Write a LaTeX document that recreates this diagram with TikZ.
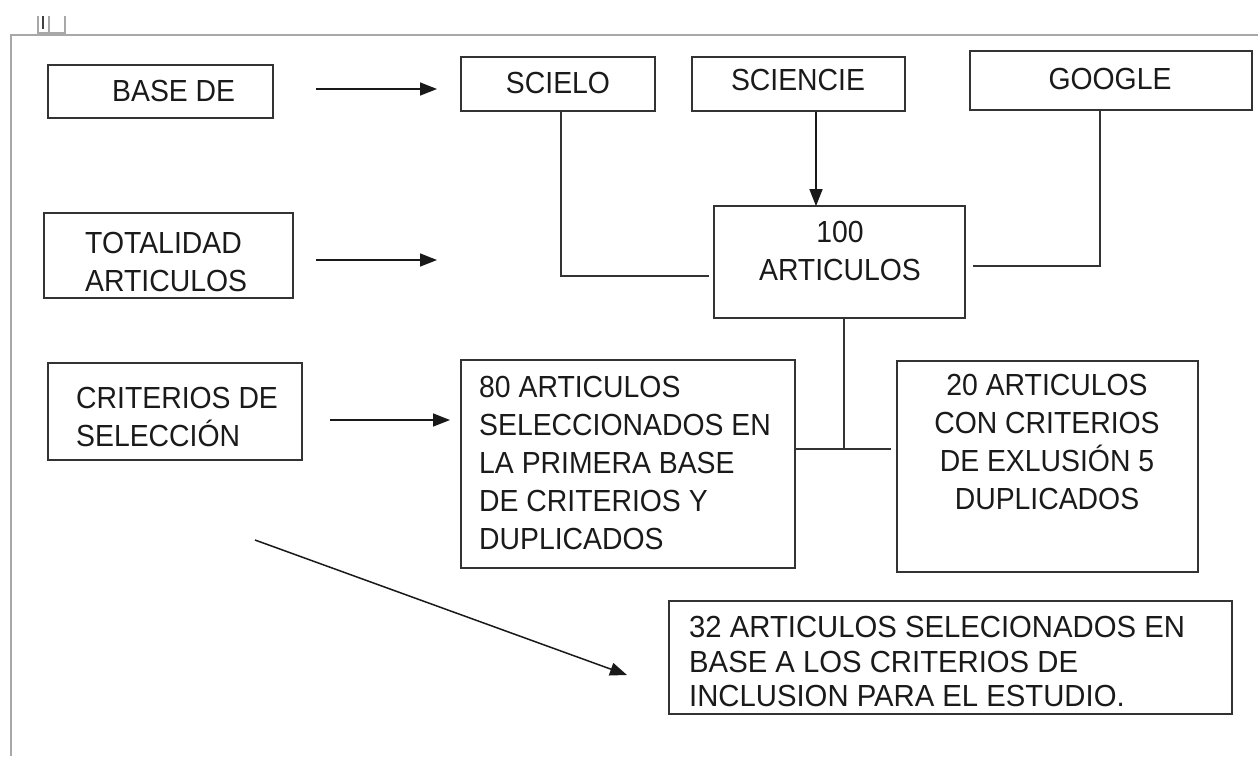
\documentclass[tikz,border=0pt]{standalone}
\usepackage{fontspec}
\setmainfont{Liberation Sans}[FakeStretch=0.93]
\newfontfamily\widefont{Liberation Sans}[FakeStretch=0.96]
\usetikzlibrary{arrows.meta}
\definecolor{boxc}{HTML}{333333}
\definecolor{txtc}{HTML}{1A1A1A}
\definecolor{framec}{HTML}{A8A8A8}
\begin{document}
\begin{tikzpicture}[x=1pt,y=-1pt,
  box/.style={draw=boxc, line width=1.8pt, inner sep=0pt},
  txt/.style={inner sep=0pt, text=txtc, font=\fontsize{30.5}{38}\selectfont},
  arr/.style={draw=black!90, line width=1.5pt, -{Triangle[length=17pt,width=13pt]}},
  conn/.style={draw=boxc, line width=1.8pt}]
\useasboundingbox (0,0) rectangle (1258,756);
\fill[white] (0,0) rectangle (1258,756);
% frame and anchor mark
\draw[framec, line width=2pt] (11,756) -- (11,35) -- (1258,35);
\draw[framec, line width=1.3pt] (38,16) -- (38,33) -- (65,33) -- (65,16);
\draw[framec, line width=1.3pt] (49,16) -- (49,33);
\draw[black!75, line width=1.8pt] (43,16) -- (43,29);
% boxes
\node[box, minimum width=225pt, minimum height=53pt] (base) at (160.5,91.5) {};
\node[box, minimum width=194pt, minimum height=54pt] (scielo) at (558,84) {};
\node[box, minimum width=213pt, minimum height=54pt] (sciencie) at (798.5,84) {};
\node[box, minimum width=282pt, minimum height=59pt] (google) at (1111,80.5) {};
\node[box, minimum width=249pt, minimum height=85pt] (totalidad) at (168.5,255.5) {};
\node[box, minimum width=251pt, minimum height=112pt] (hundred) at (839.5,262) {};
\node[box, minimum width=254pt, minimum height=97pt] (criterios) at (175,411.5) {};
\node[box, minimum width=334pt, minimum height=208pt] (eighty) at (628,464) {};
\node[box, minimum width=301pt, minimum height=211pt] (twenty) at (1047.5,466.5) {};
\node[box, minimum width=563pt, minimum height=113pt] (thirtytwo) at (950.5,657.5) {};
% texts
\node[txt, anchor=north west] (basetxt) at (112,80) {BASE DE};
\node[txt, anchor=north] (scielotxt) at (558,72) {SCIELO};
\node[txt, anchor=north] (sciencietxt) at (798,69) {SCIENCIE};
\node[txt, anchor=north] (googletxt) at (1110,68) {GOOGLE};
\node[txt, anchor=north west, align=left] (totalidadtxt) at (85,232) {TOTALIDAD\\ARTICULOS};
\node[txt, anchor=north, align=center] (hundredtxt) at (840,221) {100\\ARTICULOS};
\node[txt, anchor=north west, align=left] (criteriostxt) at (76,387) {CRITERIOS DE\\SELECCIÓN};
\node[txt, anchor=north west, align=left] (eightytxt) at (479,376) {80 ARTICULOS\\SELECCIONADOS EN\\LA PRIMERA BASE\\DE CRITERIOS Y\\DUPLICADOS};
\node[txt, anchor=north, align=center] (twentytxt) at (1047,374) {20 ARTICULOS\\CON CRITERIOS\\DE EXLUSIÓN 5\\DUPLICADOS};
\node[txt, anchor=north west, align=left, font=\widefont\fontsize{30.5}{34.5}\selectfont] (thirtytwotxt) at (689,616) {32 ARTICULOS SELECIONADOS EN\\BASE A LOS CRITERIOS DE\\INCLUSION PARA EL ESTUDIO.};
% free arrow ends
\coordinate (a1s) at (316,89);  \coordinate (a1e) at (437,89);
\coordinate (a2s) at (316,260); \coordinate (a2e) at (437,260);
\coordinate (a3s) at (330,420); \coordinate (a3e) at (450,420);
\coordinate (dgs) at (255,540); \coordinate (dge) at (627,675);
\coordinate (jn) at (844,449);
\draw[arr] (a1s) -- (a1e);
\draw[arr] (a2s) -- (a2e);
\draw[arr] (a3s) -- (a3e);
\draw[arr] (dgs) -- (dge);
% connectors
\draw[arr] (sciencie.south -| 816,0) -- ([yshift=-1pt]hundred.north -| 816,0);
\draw[conn] (scielo.south -| 561,0) -- (561,276) -- ([xshift=-4pt]hundred.west |- 0,276);
\draw[conn] (google.south -| 1100,0) -- (1100,266) -- ([xshift=7pt]hundred.east |- 0,266);
\draw[conn] (hundred.south -| jn) -- (jn);
\draw[conn] (eighty.east |- jn) -- ([xshift=-5pt]twenty.west |- jn);
\end{tikzpicture}
\end{document}
